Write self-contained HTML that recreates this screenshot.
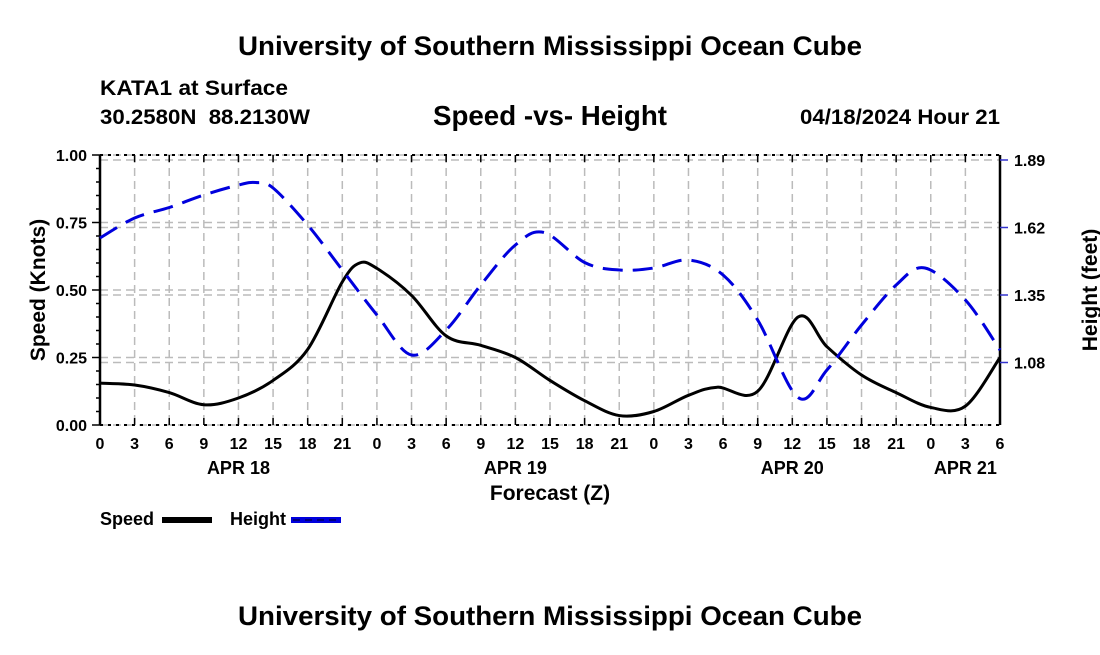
<!DOCTYPE html>
<html><head><meta charset="utf-8"><style>
body{margin:0;background:#fff;}
svg text{font-family:"Liberation Sans",Arial,sans-serif;font-weight:bold;fill:#000;}
</style></head><body>
<svg id="c" width="1100" height="650" viewBox="0 0 1100 650" xmlns="http://www.w3.org/2000/svg">
<text x="238" y="55" font-size="27" textLength="624" lengthAdjust="spacingAndGlyphs">University of Southern Mississippi Ocean Cube</text>
<text x="100" y="95" font-size="21" textLength="188" lengthAdjust="spacingAndGlyphs">KATA1 at Surface</text>
<text x="100" y="124" font-size="21" textLength="210" lengthAdjust="spacingAndGlyphs" xml:space="preserve">30.2580N  88.2130W</text>
<text x="433" y="125" font-size="28" textLength="234" lengthAdjust="spacingAndGlyphs">Speed -vs- Height</text>
<text x="800" y="124" font-size="21" textLength="200" lengthAdjust="spacingAndGlyphs">04/18/2024 Hour 21</text>
<g id="grid"></g>
<g id="axes"></g>
<g id="series"></g>
<text x="550" y="500" font-size="21" text-anchor="middle">Forecast (Z)</text>
<text transform="translate(45,290) rotate(-90)" font-size="21" text-anchor="middle">Speed (Knots)</text>
<text transform="translate(1097,290) rotate(-90)" font-size="21" text-anchor="middle">Height (feet)</text>
<g>
<text x="100" y="525" font-size="18">Speed</text>
<rect x="162" y="517" width="50" height="6" fill="#000"/></g>
<g>
<text x="230" y="525" font-size="18">Height</text>
<rect x="291" y="517" width="50" height="6" fill="#0000dd"/>
<line x1="293" y1="520" x2="341" y2="520" stroke="#000060" stroke-width="1.5" stroke-dasharray="7,5"/></g>
<text x="238" y="625" font-size="27" textLength="624" lengthAdjust="spacingAndGlyphs">University of Southern Mississippi Ocean Cube</text>
</svg>
<script>
const speedHours=[0,3,6,9,12,15,18,21,22.5,24,27,30,33,36,39,42,45,48,51,53.5,57,60.5,63,66,69,72,75,78];
const speedValues=[0.155,0.148,0.12,0.075,0.10,0.165,0.28,0.53,0.60,0.58,0.48,0.33,0.295,0.25,0.165,0.09,0.035,0.05,0.11,0.14,0.125,0.40,0.29,0.185,0.12,0.065,0.07,0.25];
const heightHours=[0,3,6,9,12,13.5,15,18,21,24,27,30,33,36,38.5,42,45,48,51,54,57,60.5,63,66,69,71.5,75,78];
const heightValues=[1.578,1.658,1.70,1.75,1.79,1.80,1.778,1.63,1.45,1.27,1.11,1.21,1.39,1.55,1.60,1.48,1.45,1.458,1.49,1.43,1.25,0.94,1.05,1.23,1.39,1.458,1.33,1.13];
const hourLabels=["0","3","6","9","12","15","18","21","0","3","6","9","12","15","18","21","0","3","6","9","12","15","18","21","0","3","6"];
const dayLabels=["APR 18","APR 19","APR 20","APR 21"];
const dayLabelHours=[12,36,60,75];
const leftTicks=[0,0.25,0.5,0.75,1.0];
const rightTicks=[1.08,1.35,1.62,1.89];

const X0=100,X1=1000,Y0=425,Y1=155,HMAX=78;
const xs=h=>X0+h/HMAX*(X1-X0);
const ys=v=>Y0-v*(Y0-Y1);
const yh=f=>160+(1.89-f)*250;
const NS="http://www.w3.org/2000/svg";
function mk(tag,attrs,parent){const e=document.createElementNS(NS,tag);for(const k in attrs)e.setAttribute(k,attrs[k]);parent.appendChild(e);return e;}
const grid=document.getElementById('grid'),axes=document.getElementById('axes'),series=document.getElementById('series');
hourLabels.forEach((l,i)=>{const x=xs(i*3);
 const g=mk('line',{x1:x,x2:x,y1:Y1,y2:Y0,stroke:'#bbb','stroke-width':1.5,'stroke-dasharray':'8,5'},grid);
 
 });
leftTicks.forEach(v=>{const y=ys(v);
 const g=mk('line',{x1:X0,x2:X1,y1:y,y2:y,stroke:'#bbb','stroke-width':1.5,'stroke-dasharray':'8,5'},grid);
 
 });
rightTicks.forEach(v=>{const y=yh(v);
 const g=mk('line',{x1:X0,x2:X1,y1:y,y2:y,stroke:'#bbb','stroke-width':1.5,'stroke-dasharray':'8,5'},grid);
 
 });
mk('line',{x1:X0,x2:X1,y1:Y1,y2:Y1,stroke:'#000','stroke-width':2,'stroke-dasharray':'3,5'},axes);
mk('line',{x1:X0,x2:X1,y1:Y0,y2:Y0,stroke:'#000','stroke-width':2,'stroke-dasharray':'3,5'},axes);
mk('line',{x1:X0,x2:X0,y1:Y1,y2:Y0,stroke:'#000','stroke-width':2.5},axes);
mk('line',{x1:X1,x2:X1,y1:Y1,y2:Y0,stroke:'#000','stroke-width':2.5},axes);
hourLabels.forEach((l,i)=>{const x=xs(i*3);
 mk('line',{x1:x,x2:x,y1:Y0,y2:Y0-7,stroke:'#000','stroke-width':1.5},axes);
 mk('line',{x1:x,x2:x,y1:Y1,y2:Y1+7,stroke:'#000','stroke-width':1.5},axes);
 const t=mk('text',{x:x,y:449,'font-size':16,'text-anchor':'middle'},axes);t.textContent=l;
 
 });
dayLabels.forEach((l,i)=>{const t=mk('text',{x:xs(dayLabelHours[i]),y:474,'font-size':18,'text-anchor':'middle'},axes);t.textContent=l;
 
 });
for(let v=0;v<=1.0001;v+=0.05){const y=ys(v),big=Math.abs(v*4-Math.round(v*4))<1e-6;
 mk('line',{x1:X0-(big?8:4),x2:X0,y1:y,y2:y,stroke:'#000','stroke-width':1.5},axes);}
leftTicks.forEach(v=>{const t=mk('text',{x:X0-13,y:ys(v)+6,'font-size':16,'text-anchor':'end'},axes);t.textContent=v.toFixed(2);
 
 });
rightTicks.forEach(v=>{const y=yh(v);
 mk('line',{x1:X1,x2:X1+8,y1:y,y2:y,stroke:'#3333cc','stroke-width':1.5},axes);
 const t=mk('text',{x:X1+14,y:y+6,'font-size':16},axes);t.textContent=v.toFixed(2);
 
 });
function path(pts){let d=`M${pts[0][0]},${pts[0][1]}`;
 for(let i=0;i<pts.length-1;i++){const p0=pts[i-1]||pts[i],p1=pts[i],p2=pts[i+1],p3=pts[i+2]||p2;
  const c1=[p1[0]+(p2[0]-p0[0])/6,p1[1]+(p2[1]-p0[1])/6],c2=[p2[0]-(p3[0]-p1[0])/6,p2[1]-(p3[1]-p1[1])/6];
  d+=`C${c1[0]},${c1[1]} ${c2[0]},${c2[1]} ${p2[0]},${p2[1]}`;}return d;}
const sp=mk('path',{d:path(speedHours.map((h,i)=>[xs(h),ys(speedValues[i])])),fill:'none',stroke:'#000','stroke-width':3},series);


const hp=mk('path',{d:path(heightHours.map((h,i)=>[xs(h),yh(heightValues[i])])),fill:'none',stroke:'#0000dd','stroke-width':3,'stroke-dasharray':'20,10'},series);


</script>
</body></html>
